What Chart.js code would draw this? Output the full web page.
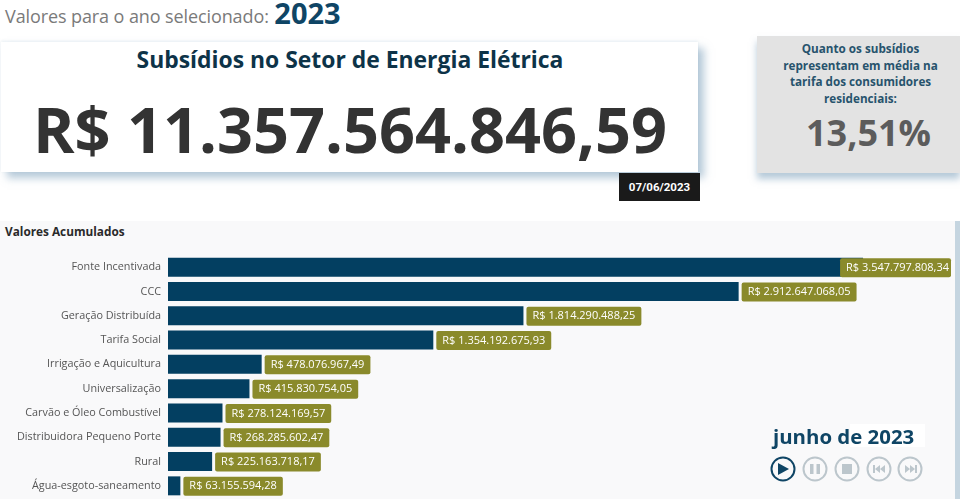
<!DOCTYPE html>
<html lang="pt-BR">
<head>
<meta charset="utf-8">
<title>Subsídios no Setor de Energia Elétrica</title>
<script src="https://cdn.jsdelivr.net/npm/chart.js@4"></script>
<style>
html, body { margin: 0; padding: 0; width: 960px; height: 499px; overflow: hidden; background: #fff; font-family: "Open Sans", sans-serif; }
div { position: absolute; box-sizing: border-box; }
#ano { left: 5px; top: -3px; font-size: 18px; line-height: 32px; color: #7a7a7a; white-space: nowrap; letter-spacing: -0.1px; }
#ano b { font-size: 29px; color: #0f4565; letter-spacing: 0; margin-left: 1px; vertical-align: -1px; }
#card { left: 1px; top: 42px; width: 697px; height: 130px; background: #fff; box-shadow: 6px 6px 8px rgba(110,150,180,.5), 0 -1px 3px rgba(150,180,200,.2); }
#titulo { left: 0; top: 3px; width: 100%; padding-left: 1px; text-align: center; font-size: 22.9px; font-weight: 700; line-height: 30px; color: #0d3348; white-space: nowrap; }
#total { left: 0; top: 47px; width: 100%; padding-left: 1px; text-align: center; font-size: 63px; font-weight: 700; line-height: 80px; color: #333; white-space: nowrap; }
#data { left: 619px; top: 173px; width: 81px; height: 28px; background: #1a1a1a; color: #fff; font: 700 11.5px/28px Roboto, sans-serif; text-align: center; }
#media { left: 757px; top: 36px; width: 203px; height: 137px; background: #e3e3e3; box-shadow: 0 6px 7px rgba(110,150,180,.5); }
#media p { margin: 4px 0 0; padding-left: 4px; text-align: center; font-size: 11.7px; font-weight: 700; line-height: 16.5px; color: #27536d; }
#pct { left: 0; top: 72px; width: 100%; padding-left: 20px; text-align: center; font-size: 36px; font-weight: 700; line-height: 50px; color: #5c5c5c; }
#painel { left: 0; top: 221px; width: 955px; height: 278px; background: #f9f9fa; box-shadow: 5px 0 0 #c5d5e0; }
#painelTitulo { left: 5px; top: 222px; font-size: 11.8px; font-weight: 700; line-height: 18px; color: #2a2a2a; }
#grafico { position: absolute; left: 0; top: 255px; }
#mesFundo { left: 850px; top: 424px; width: 75px; height: 23px; background: #fff; }
#mes { left: 773px; top: 423px; font-size: 20.4px; font-weight: 700; line-height: 26px; color: #0f4565; white-space: nowrap; }
#botoes { position: absolute; left: 769px; top: 455px; }
</style>
</head>
<body>
<div id="ano">Valores para o ano selecionado: <b>2023</b></div>
<div id="card">
  <div id="titulo">Subsídios no Setor de Energia Elétrica</div>
  <div id="total">R$ 11.357.564.846,59</div>
</div>
<div id="data">07/06/2023</div>
<div id="media">
  <p>Quanto os subsídios<br>representam em média na<br>tarifa dos consumidores<br>residenciais:</p>
  <div id="pct">13,51%</div>
</div>
<div id="painel"></div>
<div id="painelTitulo">Valores Acumulados</div>
<canvas id="grafico" width="955" height="243"></canvas>
<div id="mesFundo"></div>
<div id="mes">junho de 2023</div>
<svg id="botoes" width="156" height="28" viewBox="0 0 156 28">
  <g fill="none" stroke-width="2">
    <circle cx="14" cy="14" r="11.5" stroke="#0f4565"/>
    <circle cx="46" cy="14" r="11.5" stroke="#bcc6cc"/>
    <circle cx="78" cy="14" r="11.5" stroke="#bcc6cc"/>
    <circle cx="110" cy="14" r="11.5" stroke="#bcc6cc"/>
    <circle cx="141" cy="14" r="11.5" stroke="#bcc6cc"/>
  </g>
  <path d="M9 8 L20 14 L9 20 Z" fill="#0f4565"/>
  <g fill="#bcc6cc">
    <rect x="41" y="9" width="3.5" height="10"/><rect x="47.5" y="9" width="3.5" height="10"/>
    <rect x="73" y="9" width="10" height="10"/>
    <rect x="104" y="10" width="2" height="8"/><path d="M111 10 L106 14 L111 18 Z M116 10 L111 14 L116 18 Z"/>
    <rect x="146" y="10" width="2" height="8"/><path d="M136 10 L141 14 L136 18 Z M141 10 L146 14 L141 18 Z"/>
  </g>
</svg>
<script>
const categorias = ['Fonte Incentivada', 'CCC', 'Geração Distribuída', 'Tarifa Social', 'Irrigação e Aquicultura', 'Universalização', 'Carvão e Óleo Combustível', 'Distribuidora Pequeno Porte', 'Rural', 'Água-esgoto-saneamento'];
const valores = [3547797808.34, 2912647068.05, 1814290488.25, 1354192675.93, 478076967.49, 415830754.05, 278124169.57, 268285602.47, 225163718.17, 63155594.28];
const rotulos = ['R$ 3.547.797.808,34', 'R$ 2.912.647.068,05', 'R$ 1.814.290.488,25', 'R$ 1.354.192.675,93', 'R$ 478.076.967,49', 'R$ 415.830.754,05', 'R$ 278.124.169,57', 'R$ 268.285.602,47', 'R$ 225.163.718,17', 'R$ 63.155.594,28'];

// etiqueta verde ao lado de cada barra
const etiquetas = {
    id: 'etiquetas',
    afterDatasetsDraw(chart) {
        const c = chart.ctx;
        c.save();
        c.font = '11px "Open Sans"';
        c.textBaseline = 'middle';
        chart.getDatasetMeta(0).data.forEach((bar, i) => {
            let w = c.measureText(rotulos[i]).width + 12;
            let x = bar.x + 3;
            if (x + w > 951) {
                w -= 4;
                x = 951 - w;
            }
            c.fillStyle = '#8a8a2b';
            c.beginPath();
            c.roundRect(x, bar.y - 9, w, 19, 2);
            c.fill();
            c.fillStyle = '#fff';
            c.fillText(rotulos[i], x + 6, bar.y + 0.5);
        });
        c.restore();
    }
};

new Chart(document.getElementById('grafico'), {
    type: 'bar',
    data: {
        labels: categorias,
        datasets: [{
            data: valores,
            backgroundColor: '#033f61',
            barPercentage: 0.78,
            categoryPercentage: 1
        }]
    },
    options: {
        indexAxis: 'y',
        responsive: false,
        animation: false,
        devicePixelRatio: 1,
        layout: { padding: 0 },
        plugins: { legend: { display: false }, tooltip: { enabled: false } },
        scales: {
            x: { display: false, min: 0, max: 4017000000 },
            y: {
                grid: { display: false, drawTicks: false },
                border: { display: false },
                afterFit(scale) {
                    scale.width = 168;
                    scale.paddingTop = 0;
                    scale.paddingBottom = 0;
                },
                ticks: { color: '#555', font: { family: 'Open Sans', size: 10.8 }, padding: 7 }
            }
        }
    },
    plugins: [etiquetas]
});
</script>
</body>
</html>
